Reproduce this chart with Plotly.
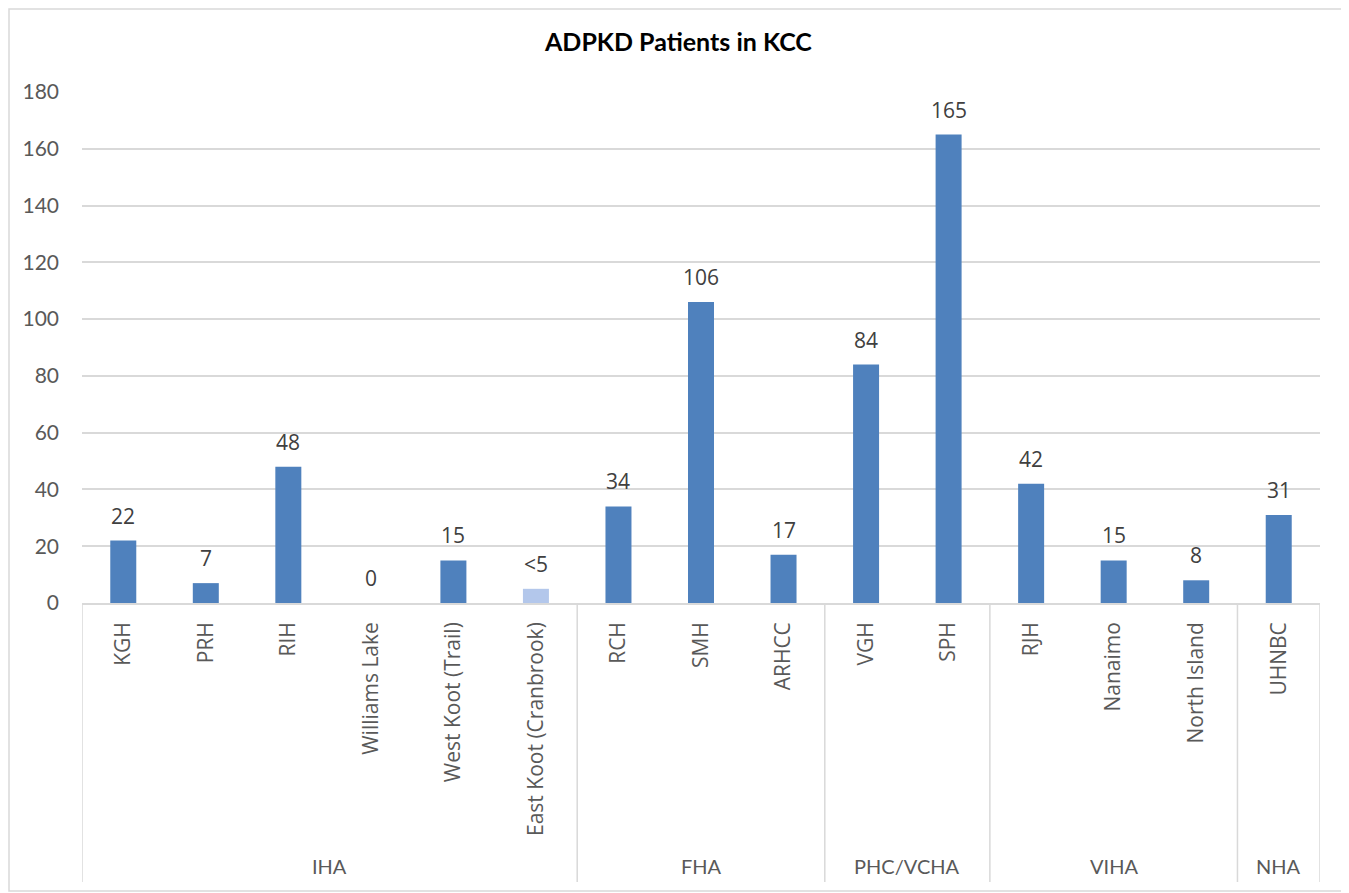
import plotly.graph_objects as go

# ---- data ----
hospitals = ["KGH", "PRH", "RIH", "Williams Lake", "West Koot (Trail)", "East Koot (Cranbrook)",
             "RCH", "SMH", "ARHCC", "VGH", "SPH", "RJH", "Nanaimo", "North Island", "UHNBC"]
regions = ["IHA", "FHA", "PHC/VCHA", "VIHA", "NHA"]
region_sizes = [6, 3, 2, 3, 1]
patients = [22, 7, 48, 0, 15, 5, 34, 106, 17, 84, 165, 42, 15, 8, 31]
value_labels = ["22", "7", "48", "0", "15", "<5", "34", "106", "17", "84", "165", "42", "15", "8", "31"]
suppressed = [False, False, False, False, False, True, False, False, False, False, False, False, False, False, False]
y_ticks = [0, 20, 40, 60, 80, 100, 120, 140, 160, 180]

BLUE = "#4F81BD"
LIGHT = "#B3C7EB"
GRID = "#D9D9D9"
TXT = "#595959"

OFF = 8  # page body margin
W, H = 1349, 893
PL, PR, PT, PB = 82, 1320, 92, 603   # plot area in page pixels
ML, MT = PL - OFF, PT - OFF
pw, ph = PR - PL, PB - PT
MR = W - ML - pw
MB = H - MT - ph

def py(pix):
    return (PB - pix) / ph

def px(pix):
    return (pix - PL) / pw

xs = list(range(len(hospitals)))
colors = [LIGHT if s else BLUE for s in suppressed]

fig = go.Figure()
fig.add_trace(go.Bar(x=xs, y=patients, marker=dict(color=colors, line=dict(width=0)),
                     width=0.315, hoverinfo="x+y", showlegend=False))

annotations = []
for i, (v, lab) in enumerate(zip(patients, value_labels)):
    annotations.append(dict(x=i, y=v, xref="x", yref="y", text=lab, showarrow=False,
                            yanchor="middle", yshift=25,
                            font=dict(family="Open Sans", size=21, color="#404040")))

shapes = []
pos = -0.5
shapes.append(dict(type="line", xref="x", yref="paper", x0=pos, x1=pos, y0=0, y1=py(882),
                   line=dict(color=GRID, width=1.5)))
for name, n in zip(regions, region_sizes):
    start = pos
    pos = pos + n
    shapes.append(dict(type="line", xref="x", yref="paper", x0=pos, x1=pos, y0=0, y1=py(882),
                       line=dict(color=GRID, width=1.5)))
    annotations.append(dict(x=(start + pos) / 2, y=py(866), xref="x", yref="paper", text=name,
                            showarrow=False, yanchor="middle",
                            font=dict(family="Lato", size=20, color=TXT)))

# outer chart border
shapes.append(dict(type="rect", xref="paper", yref="paper", x0=px(OFF + 1), x1=px(1346), y0=py(891), y1=py(OFF + 1),
                   line=dict(color=GRID, width=1.5), fillcolor="rgba(0,0,0,0)", layer="below"))

annotations.append(dict(x=px(678), y=py(41), xref="paper", yref="paper", text="<b>ADPKD Patients in KCC</b>",
                        showarrow=False, xanchor="center", yanchor="middle",
                        font=dict(family="Lato", size=25, color="#000000")))

fig.update_layout(
    width=W, height=H,
    margin=dict(l=ML, r=MR, t=MT, b=MB, autoexpand=False),
    paper_bgcolor="white", plot_bgcolor="white",
    shapes=shapes, annotations=annotations,
)
fig.update_xaxes(range=[-0.5, len(hospitals) - 0.5], tickmode="array", tickvals=xs, ticktext=hospitals,
                 tickangle=-90, showgrid=False, zeroline=False, showline=True, linecolor=GRID, linewidth=1.5,
                 ticks="", ticklabelstandoff=9,
                 tickfont=dict(family="Open Sans", size=21, color=TXT), fixedrange=True)
fig.update_yaxes(range=[0, 180], tickmode="array", tickvals=y_ticks, showgrid=True, gridcolor=GRID, gridwidth=1.5,
                 zeroline=False, showline=False, ticks="", ticklabelstandoff=22,
                 tickfont=dict(family="Lato", size=21, color=TXT), fixedrange=True)

fig.write_html("out.html")
